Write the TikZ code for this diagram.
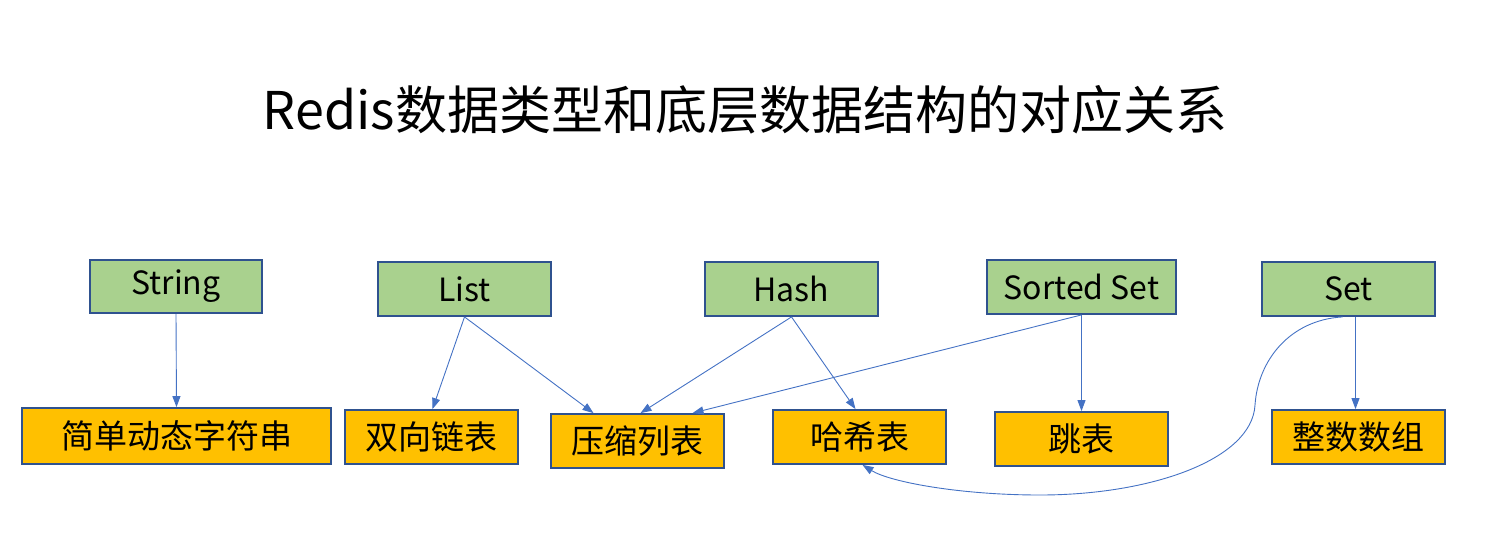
\documentclass[tikz,border=0pt]{standalone}
\usepackage{fontspec}
\setmainfont{Noto Sans CJK SC}
\usetikzlibrary{arrows.meta}
\definecolor{gfill}{HTML}{A9D18E}
\definecolor{ofill}{HTML}{FFC000}
\definecolor{bord}{HTML}{2F528F}
\definecolor{arrc}{HTML}{4472C4}
\begin{document}
\begin{tikzpicture}[x=1pt,y=-1pt,
  typebox/.style={draw=bord,line width=1.8pt,fill=gfill,minimum width=173pt,minimum height=54pt,inner sep=0pt,font=\fontsize{32}{34}\selectfont},
  structbox/.style={draw=bord,line width=1.8pt,fill=ofill,minimum width=173pt,minimum height=54pt,inner sep=0pt,font=\fontsize{33}{35}\selectfont},
  arr/.style={draw=arrc,line width=0.9pt,-{Triangle[length=11pt,width=8pt]}}]
\useasboundingbox (0,0) rectangle (1503,542);
\node[font=\fontsize{52}{56}\selectfont] (title) at (745,110) {Redis数据类型和底层数据结构的对应关系};
% types
\node[typebox,minimum width=172pt,minimum height=53pt] (string) at (176,286.5) {String};
\node[typebox] (list) at (464.5,289) {List};
\node[typebox] (hash) at (791.5,289) {Hash};
\node[typebox,minimum width=189pt] (sorted) at (1081.5,287) {Sorted Set};
\node[typebox] (set) at (1348.5,289) {Set};
% structures
\node[structbox,minimum width=309pt,minimum height=56pt] (sds) at (176.5,436) {简单动态字符串};
\node[structbox] (dlist) at (431.5,437) {双向链表};
\node[structbox] (ziplist) at (637.5,441) {压缩列表};
\node[structbox] (hashtable) at (859.5,437) {哈希表};
\node[structbox] (skiplist) at (1081.5,439) {跳表};
\node[structbox] (intarr) at (1358.5,437) {整数数组};
% connectors
\draw[arr] (string.south) -- (sds.north);
\draw[arr] (list.south) -- ([xshift=1pt]dlist.north);
\draw[arr] (list.south) -- ([xshift=-44pt]ziplist.north);
\draw[arr] (hash.south) -- ([xshift=3pt]ziplist.north);
\draw[arr] (hash.south) -- ([xshift=-4pt]hashtable.north);
\draw[arr] (sorted.south) -- ([xshift=55pt]ziplist.north);
\draw[arr] (sorted.south) -- (skiplist.north);
\draw[arr] ([xshift=7pt]set.south) -- ([xshift=7pt]set.south |- intarr.north);
\draw[arr] ([xshift=-6pt]set.south) .. controls (1290,320) and (1258,360) .. (1255,405)
  .. controls (1252,460) and (1150,495) .. (1040,495)
  .. controls (960,495) and (890,482) .. ([xshift=3pt]hashtable.south);
\end{tikzpicture}
\end{document}
